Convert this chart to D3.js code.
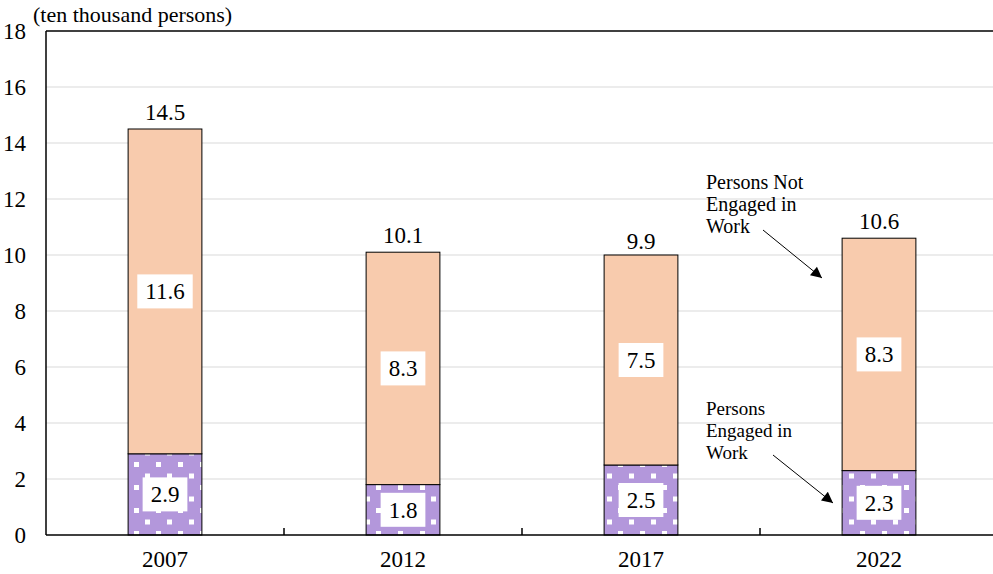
<!DOCTYPE html>
<html>
<head>
<meta charset="utf-8">
<script src="https://cdn.jsdelivr.net/npm/d3@7"></script>
<style>
  html, body { margin: 0; padding: 0; background: #fff; }
  svg { display: block; }
</style>
</head>
<body>
<svg id="chart" width="993" height="574" font-family="'Liberation Serif', 'DejaVu Serif', serif"></svg>
<script>
// Persons with disabilities (ten thousand persons), survey years
const years = ["2007", "2012", "2017", "2022"];
const engaged = [2.9, 1.8, 2.5, 2.3];
const notEngaged = [11.6, 8.3, 7.5, 8.3];
const totals = [14.5, 10.1, 9.9, 10.6];
const yTicks = [0, 2, 4, 6, 8, 10, 12, 14, 16, 18];

const FONT = "'Liberation Serif', 'DejaVu Serif', serif";
const svg = d3.select("#chart");
const margin = { left: 46, top: 31, right: -5, bottom: 39 };
const W = 993, H = 574;

const x = d3.scaleBand().domain(years)
  .range([margin.left, W - margin.right]).paddingInner(0.69).paddingOuter(0.345);
const y = d3.scaleLinear().domain([0, 18]).range([H - margin.bottom, margin.top]);

const txt = (sel) => sel.append("text").attr("font-family", FONT).attr("fill", "#000");

// pattern for the engaged segment: purple with white staggered squares
const defs = svg.append("defs");
const pat = defs.append("pattern").attr("id", "dots")
  .attr("patternUnits", "userSpaceOnUse").attr("width", 22).attr("height", 23);
pat.append("rect").attr("width", 22).attr("height", 23).attr("fill", "#b397db");
pat.append("rect").attr("x", 2).attr("y", 2).attr("width", 5).attr("height", 5).attr("fill", "#fff");
pat.append("rect").attr("x", 13).attr("y", 13.5).attr("width", 5).attr("height", 5).attr("fill", "#fff");

// gridlines
svg.append("g").selectAll("line").data(yTicks.filter(d => d > 0 && d < 18)).join("line")
  .attr("x1", margin.left).attr("x2", W)
  .attr("y1", d => y(d)).attr("y2", d => y(d))
  .attr("stroke", "#d9d9d9").attr("stroke-width", 1);

// top border
svg.append("line").attr("x1", margin.left).attr("x2", W)
  .attr("y1", y(18)).attr("y2", y(18)).attr("stroke", "#000").attr("stroke-width", 1.5);

// bars
const g = svg.append("g");
years.forEach((yr, i) => {
  const bx = x(yr), bw = x.bandwidth();
  g.append("rect").attr("x", bx).attr("y", y(engaged[i]))
    .attr("width", bw).attr("height", y(0) - y(engaged[i]))
    .attr("fill", "url(#dots)").attr("stroke", "#000").attr("stroke-width", 1);
  g.append("rect").attr("x", bx).attr("y", y(engaged[i] + notEngaged[i]))
    .attr("width", bw).attr("height", y(engaged[i]) - y(engaged[i] + notEngaged[i]))
    .attr("fill", "#f8cbad").attr("stroke", "#000").attr("stroke-width", 1);
});

// segment labels in white boxes
function boxedLabel(cx, cy, s) {
  const t = txt(g).attr("x", cx).attr("y", cy).attr("dy", "0.35em")
    .attr("text-anchor", "middle").attr("font-size", 23).text(s);
  const bb = t.node().getBBox();
  g.insert("rect", () => t.node())
    .attr("x", bb.x - 8).attr("y", cy - 17).attr("width", bb.width + 16).attr("height", 34)
    .attr("fill", "#fff");
}
years.forEach((yr, i) => {
  const cx = x(yr) + x.bandwidth() / 2;
  boxedLabel(cx, y(engaged[i] / 2), engaged[i].toFixed(1));
  boxedLabel(cx, y(engaged[i] + notEngaged[i] / 2), notEngaged[i].toFixed(1));
  txt(g).attr("x", cx).attr("y", y(totals[i]) - 9)
    .attr("text-anchor", "middle").attr("font-size", 23).text(totals[i].toFixed(1));
});

// axes
svg.append("line").attr("x1", margin.left).attr("x2", margin.left)
  .attr("y1", y(18)).attr("y2", y(0)).attr("stroke", "#000").attr("stroke-width", 1.5);
svg.append("line").attr("x1", margin.left).attr("x2", W)
  .attr("y1", y(0)).attr("y2", y(0)).attr("stroke", "#000").attr("stroke-width", 1.5);

const yl = svg.append("g");
yTicks.forEach(d => {
  txt(yl).attr("x", 26).attr("y", y(d)).attr("dy", "0.35em")
    .attr("text-anchor", "end").attr("font-size", 23).text(d);
});

// category separators
const step = x.step();
svg.append("g").selectAll("line").data(d3.range(1, years.length)).join("line")
  .attr("x1", d => margin.left + d * step).attr("x2", d => margin.left + d * step)
  .attr("y1", y(0) - 7).attr("y2", y(0)).attr("stroke", "#000").attr("stroke-width", 1.5);

const xl = svg.append("g");
years.forEach(d => {
  txt(xl).attr("x", x(d) + x.bandwidth() / 2).attr("y", y(0) + 32)
    .attr("text-anchor", "middle").attr("font-size", 23).text(d);
});

// unit label
txt(svg).attr("x", 33).attr("y", 22).attr("font-size", 22).text("(ten thousand persons)");

// annotations
defs.append("marker").attr("id", "arrow").attr("viewBox", "0 0 10 10")
  .attr("refX", 10).attr("refY", 5).attr("markerWidth", 15).attr("markerHeight", 11)
  .attr("markerUnits", "userSpaceOnUse").attr("orient", "auto")
  .append("path").attr("d", "M0,0 L10,5 L0,10 z").attr("fill", "#000");

function note(lines, tx, ty, lh, fs, x1, y1, x2, y2) {
  const t = txt(svg).attr("x", tx).attr("y", ty).attr("font-size", fs);
  lines.forEach((l, k) => t.append("tspan").attr("x", tx).attr("y", ty + k * lh).text(l));
  svg.append("line").attr("x1", x1).attr("y1", y1).attr("x2", x2).attr("y2", y2)
    .attr("stroke", "#000").attr("stroke-width", 1).attr("marker-end", "url(#arrow)");
}
note(["Persons Not", "Engaged in", "Work"], 706, 189, 22, 20, 763, 230, 822, 278);
note(["Persons", "Engaged in", "Work"], 706, 415, 22, 19, 773, 455, 833, 503);
</script>
</body>
</html>
